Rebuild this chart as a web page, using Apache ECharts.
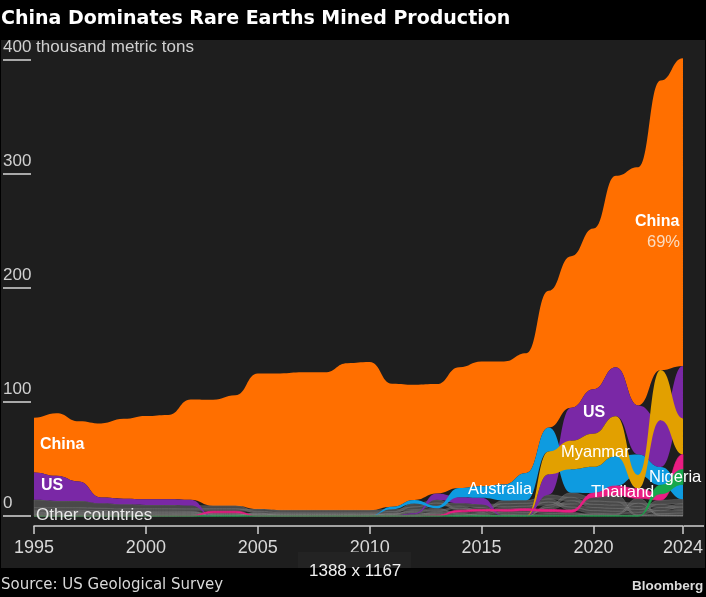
<!DOCTYPE html>
<html>
<head>
<meta charset="utf-8">
<style>
  html, body { margin: 0; padding: 0; background: #000; }
  #app { width: 706px; height: 597px; }
</style>
<script src="https://cdn.jsdelivr.net/npm/echarts@6/dist/echarts.min.js"></script>
</head>
<body>
<div id="app"></div>
<script>
// thousand metric tons, one value per year 1995-2024
var startYear = 1995;
var china = [48, 55, 53, 65, 70, 73, 74, 88, 93, 97, 119, 120, 121, 121, 129, 130, 108, 101, 96, 106, 109.5, 108, 105, 120, 133, 141, 168, 209, 254, 270];
var us = [24, 22, 17, 5, 5, 5, 5, 5, 0, 0, 0, 0, 0, 0, 0, 0, 0, 0.8, 5.5, 5.4, 5.9, 0, 0, 18, 29, 39, 43, 43, 41, 46];
var australia = [0, 0, 0, 0, 0, 0, 0, 0, 0, 0, 0, 0, 0, 0, 0, 0, 2.2, 3.2, 2, 8, 10, 14, 24, 21, 20.5, 23, 26, 18, 16, 13];
var myanmar = [0, 0, 0, 0, 0, 0, 0, 0, 0, 0, 0, 0, 0, 0, 0, 0, 0, 0, 0, 0, 0, 0, 0, 20, 25, 29, 35, 12, 44, 31.6];
var thailand = [0.2, 0.2, 0.2, 0.2, 0.2, 0.2, 0.2, 0.3, 1.4, 1.4, 0.1, 0.1, 0.1, 0.1, 0.1, 0.1, 0.1, 0.1, 0.7, 1.5, 1.5, 1.6, 1.75, 1.75, 1.9, 3.6, 8, 8.5, 5.5, 13.2];
var nigeria = [0, 0, 0, 0, 0, 0, 0, 0, 0, 0, 0, 0, 0, 0, 0, 0, 0, 0, 0, 0, 0, 0, 0, 0, 0, 0, 0, 0, 7.5, 13.1];

// the grey "other countries" strands
var india = [7, 6, 6, 4.5, 4, 3.5, 3.5, 3.2, 2.8, 2.8, 1.5, 1.2, 1.2, 1.2, 1.2, 1.2, 1.5, 2.9, 2.9, 1.7, 1.7, 1.5, 1.5, 1.8, 2.9, 2.9, 2.9, 2.9, 2.9, 2.9];
var russia = [2.2, 2.2, 2.2, 2, 2, 2, 2, 2, 2, 2, 2, 1.8, 1.8, 1.8, 1.8, 1.8, 2, 2.5, 2.5, 2.5, 2.6, 2.8, 2.6, 2.7, 2.7, 2.7, 2.6, 2.6, 2.6, 2.5];
var brazil = [1.2, 1.2, 1.1, 1, 0.9, 0.8, 0.8, 0.8, 0.6, 0.6, 0.5, 0.5, 0.5, 0.5, 0.5, 0.5, 0.5, 0.9, 0.9, 0.6, 0.9, 1.5, 1.7, 1.7, 1.5, 0.6, 0.5, 0.1, 0.1, 0.1];
var malaysia = [1.1, 1, 1, 1, 0.9, 0.9, 0.9, 0.8, 0.7, 0.7, 0.6, 0.6, 0.6, 0.6, 0.6, 0.6, 0.6, 1.2, 1.6, 1, 0.5, 0.6, 0.5, 0.8, 0.5, 0.8, 0.5, 0.2, 0.2, 0.1];
var vietnam = [0.8, 0.8, 0.8, 0.8, 0.7, 0.7, 0.7, 0.7, 0.6, 0.6, 0.4, 0.3, 0.3, 0.3, 0.3, 0.3, 0.3, 0.7, 1, 0.8, 0.5, 0.6, 1, 1.5, 1.3, 0.9, 0.9, 4.3, 0.6, 0.3];
var madagascar = [0, 0, 0, 0, 0, 0, 0, 0, 0, 0, 0, 0, 0, 0, 0, 0, 0, 0, 0, 0, 0, 0, 0, 2, 4, 3.4, 6, 0.9, 1.2, 2];
var sriLanka = [1, 1.1, 1.2, 1, 0.9, 1, 1, 0.9, 0.5, 0.5, 0.6, 0.4, 0.4, 0.4, 0.4, 0.4, 0.6, 1, 1.5, 1.8, 1.4, 2.8, 2.6, 3.6, 3, 2.8, 2.8, 2.5, 3.7, 3.9];
var burundi = [0.7, 0.7, 0.7, 0.7, 0.6, 0.6, 0.6, 0.6, 0.4, 0.4, 0.4, 0.2, 0.2, 0.2, 0.2, 0.2, 0.3, 0.8, 1.1, 1.2, 1, 2.2, 2.1, 2.7, 2.6, 2.4, 2.2, 2, 2.7, 2.9];

var yTicks = [0, 100, 200, 300, 400];

var orange = '#ff6f00';
var purple = '#7a28a6';
var blue = '#0e9be0';
var gold = '#e2a000';
var pink = '#ea1d83';
var green = '#17a84b';
var greyFill = 'rgba(110,110,110,0.55)';
var greyLine = 'rgba(170,170,170,0.3)';

// paint order: greys first, named countries over them
var bands = [
    {name: 'China', values: china, fill: orange},
    {name: 'India', values: india, fill: greyFill, line: greyLine},
    {name: 'Russia', values: russia, fill: greyFill, line: greyLine},
    {name: 'Brazil', values: brazil, fill: greyFill, line: greyLine},
    {name: 'Malaysia', values: malaysia, fill: greyFill, line: greyLine},
    {name: 'Vietnam', values: vietnam, fill: greyFill, line: greyLine},
    {name: 'Madagascar', values: madagascar, fill: greyFill, line: greyLine},
    {name: 'Sri Lanka', values: sriLanka, fill: greyFill, line: greyLine},
    {name: 'Burundi', values: burundi, fill: greyFill, line: greyLine},
    {name: 'US', values: us, fill: purple},
    {name: 'Australia', values: australia, fill: blue},
    {name: 'Myanmar', values: myanmar, fill: gold},
    {name: 'Thailand', values: thailand, fill: pink, line: pink},
    {name: 'Nigeria', values: nigeria, fill: green, line: green}
];

// ribbon stack: every year the smallest country sits at the bottom, the largest on top
function buildRows() {
    var rows = bands.map(function () { return []; });
    china.forEach(function (v, i) {
        var order = bands.map(function (b, k) { return k; });
        order.sort(function (a, b) { return bands[a].values[i] - bands[b].values[i]; });
        var sum = 0;
        order.forEach(function (k) {
            var val = bands[k].values[i];
            rows[k].push([startYear + i, sum, sum + val]);
            sum += val;
        });
    });
    return rows;
}
var bandRows = buildRows();

function edge(api, row, idx, from) {
    // horizontal tangent at each year, like a bump curve
    var d = '';
    var step = from === 0 ? 1 : -1;
    var n = row.length;
    var i = from === 0 ? 0 : n - 1;
    var p = api.coord([row[i][0], row[i][idx]]);
    d += 'L' + p[0] + ' ' + p[1];
    for (i += step; i >= 0 && i < n; i += step) {
        var q = api.coord([row[i][0], row[i][idx]]);
        var mx = (p[0] + q[0]) / 2;
        d += 'C' + mx + ' ' + p[1] + ' ' + mx + ' ' + q[1] + ' ' + q[0] + ' ' + q[1];
        p = q;
    }
    return d;
}

function renderBand(params, api) {
    if (params.dataIndex !== 0) {
        return null;
    }
    var row = bandRows[params.seriesIndex];
    var band = bands[params.seriesIndex];
    var top = edge(api, row, 2, 0);
    var bottom = edge(api, row, 1, row.length - 1);
    return {
        type: 'path',
        shape: {pathData: 'M' + top.slice(1) + bottom + 'Z'},
        style: {
            fill: band.fill,
            stroke: band.line || null,
            lineWidth: band.line ? 0.7 : 0
        }
    };
}

function label(text, left, top, size, weight, color) {
    return {
        type: 'text',
        left: left,
        top: top,
        z: 50,
        style: {
            text: text,
            fill: color || '#fff',
            font: (weight || 'normal') + ' ' + size + 'px "Liberation Sans", Arial, sans-serif'
        }
    };
}

var myChart = echarts.init(document.getElementById('app'));
myChart.setOption({
    animation: false,
    backgroundColor: '#000',
    title: {
        text: 'China Dominates Rare Earths Mined Production',
        left: 1,
        top: 10,
        padding: 0,
        textStyle: {
            color: '#fff',
            fontFamily: '"DejaVu Sans"',
            fontWeight: 'bold',
            fontSize: 19
        }
    },
    grid: {left: 33, right: 22, top: 60, bottom: 81},
    xAxis: {
        type: 'value',
        min: 1995,
        max: 2024,
        interval: 5,
        offset: 10,
        axisLine: {show: true, onZero: false, lineStyle: {color: '#d0d0d0', width: 1.5}},
        axisTick: {show: true, length: 8, lineStyle: {color: '#d0d0d0', width: 1.5}},
        axisLabel: {
            color: '#d8d8d8',
            fontSize: 18,
            fontFamily: '"Liberation Sans"',
            margin: 13,
            formatter: function (v) { return String(v); }
        },
        splitLine: {show: false}
    },
    yAxis: {
        type: 'value',
        min: yTicks[0],
        max: yTicks[yTicks.length - 1],
        interval: 100,
        offset: 3,
        axisLine: {show: false},
        axisTick: {show: true, length: 28, lineStyle: {color: '#d8d8d8', width: 1.5}},
        axisLabel: {
            color: '#d0d0d0',
            fontSize: 17,
            fontFamily: '"Liberation Sans"',
            align: 'left',
            verticalAlign: 'bottom',
            padding: [0, 0, 4, 0],
            margin: 28,
            formatter: function (v) { return v === 400 ? '400 thousand metric tons' : String(v); }
        },
        splitLine: {show: false}
    },
    graphic: [
        {type: 'rect', z: -10, shape: {x: 1, y: 40, width: 704, height: 528}, style: {fill: '#1e1e1e'}},
        {type: 'line', z: 1, shape: {x1: 684, y1: 526, x2: 704, y2: 526}, style: {stroke: '#d0d0d0', lineWidth: 1.5}},
        {type: 'rect', z: 40, shape: {x: 298, y: 552, width: 113, height: 16}, style: {fill: '#232323'}},
        label('1388 x 1167', 309, 563, 17, 'normal', '#f0f0f0'),
        label('China', 40, 437, 16, 'bold'),
        label('US', 41, 478, 16, 'bold'),
        label('Other countries', 36, 507, 17, 'normal', '#e8e8e8'),
        label('Australia', 468, 481, 16.5, 'normal'),
        label('Myanmar', 561, 444, 16.5, 'normal', '#fff'),
        label('US', 583, 405, 16, 'bold'),
        label('Thailand', 591, 484, 16.5, 'normal'),
        label('Nigeria', 649, 469, 16.5, 'normal'),
        label('China', 635, 214, 16, 'bold'),
        label('69%', 647, 234, 16.5, 'normal', '#fbdcc0'),
        {
            type: 'text',
            left: 1,
            top: 578,
            style: {text: 'Source: US Geological Survey', fill: '#d8d8d8', font: '15px "DejaVu Sans"'}
        },
        label('Bloomberg', 632, 579, 13.5, 'bold', '#dcdcdc')
    ],
    series: bands.map(function (band, k) {
        return {
            name: band.name,
            type: 'custom',
            coordinateSystem: 'cartesian2d',
            renderItem: renderBand,
            silent: true,
            clip: false,
            encode: {x: 0, y: 2},
            data: bandRows[k]
        };
    })
});
</script>
</body>
</html>
